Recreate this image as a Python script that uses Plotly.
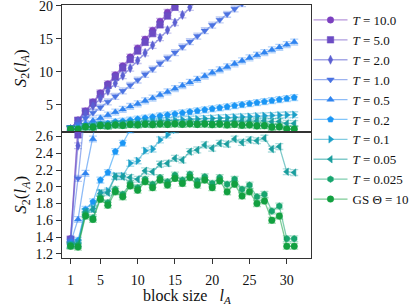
import plotly.graph_objects as go
from plotly.subplots import make_subplots

block_size = list(range(1, 32))

labels = ["<i>T</i> = 10.0", "<i>T</i> = 5.0", "<i>T</i> = 2.0", "<i>T</i> = 1.0", "<i>T</i> = 0.5",
          "<i>T</i> = 0.2", "<i>T</i> = 0.1", "<i>T</i> = 0.05", "<i>T</i> = 0.025", "GS Θ = 10"]

T10 = [1.38, 2.70, 4.07, 5.44, 6.80, 8.16, 9.52, 10.88, 12.22, 13.57, 14.91, 16.26, 17.62, 18.98, 20.30,
       21.60, 22.90, 24.20, 25.50, 26.80, 28.10, 29.40, 30.60, 31.90, 33.10, 34.30, 35.50, 36.70, 37.80, 38.90, 40.00]
T5 = [1.37, 2.62, 3.95, 5.28, 6.60, 7.92, 9.22, 10.55, 11.85, 13.15, 14.45, 15.78, 17.10, 18.45, 19.75,
      21.00, 22.30, 23.50, 24.80, 26.00, 27.20, 28.40, 29.60, 30.70, 31.80, 32.90, 34.00, 35.00, 36.00, 37.00, 37.90]
T2 = [1.36, 2.49, 3.65, 4.80, 5.95, 7.10, 8.25, 9.40, 10.55, 11.70, 12.85, 14.00, 15.15, 16.30, 17.45,
      18.60, 19.75, 20.90, 22.00, 23.10, 24.20, 25.30, 26.40, 27.50, 28.50, 29.50, 30.50, 31.50, 32.40, 33.30, 34.20]
T1 = [1.35, 2.10, 2.95, 3.78, 4.60, 5.45, 6.28, 7.10, 7.95, 8.75, 9.60, 10.40, 11.25, 12.08, 12.90,
      13.75, 14.55, 15.40, 16.22, 17.05, 17.85, 18.70, 19.50, 20.30, 21.10, 21.90, 22.70, 23.45, 24.20, 24.95, 25.70]
T05 = [1.33, 1.61, 2.16, 2.57, 3.00, 3.45, 3.90, 4.30, 4.75, 5.15, 5.60, 6.00, 6.50, 6.95, 7.45,
       7.90, 8.40, 8.85, 9.35, 9.85, 10.30, 10.75, 11.20, 11.65, 12.10, 12.50, 12.90, 13.30, 13.70, 14.10, 14.50]
T02 = [1.31, 1.36, 1.73, 1.82, 2.08, 2.17, 2.42, 2.52, 2.68, 2.84, 3.00, 3.15, 3.31, 3.46, 3.62,
       3.77, 3.93, 4.08, 4.24, 4.39, 4.55, 4.70, 4.86, 5.01, 5.17, 5.32, 5.48, 5.63, 5.79, 5.94, 6.10]
T01 = [1.31, 1.33, 1.70, 1.74, 1.93, 1.95, 2.13, 2.13, 2.28, 2.31, 2.43, 2.45, 2.56, 2.62, 2.68,
       2.73, 2.80, 2.84, 2.90, 2.95, 3.02, 3.06, 3.12, 3.17, 3.22, 3.28, 3.33, 3.37, 3.42, 3.46, 3.50]
T005 = [1.30, 1.32, 1.70, 1.73, 1.92, 1.93, 2.12, 2.12, 2.11, 2.09, 2.19, 2.18, 2.27, 2.28, 2.34,
        2.32, 2.42, 2.44, 2.50, 2.46, 2.52, 2.51, 2.57, 2.53, 2.56, 2.55, 2.58, 2.45, 2.48, 2.18, 2.17]
T0025 = [1.30, 1.30, 1.67, 1.63, 1.87, 1.81, 1.97, 1.91, 2.04, 1.99, 2.09, 2.03, 2.11, 2.06, 2.14,
         2.08, 2.15, 2.07, 2.12, 2.04, 2.11, 2.03, 2.09, 1.97, 2.02, 1.88, 1.91, 1.71, 1.77, 1.38, 1.38]
GS = [1.29, 1.28, 1.65, 1.61, 1.85, 1.78, 1.94, 1.88, 2.01, 1.96, 2.06, 1.99, 2.08, 2.02, 2.10,
      2.04, 2.11, 2.02, 2.08, 1.99, 2.07, 1.94, 2.03, 1.89, 1.94, 1.80, 1.83, 1.60, 1.65, 1.29, 1.29]

series = [T10, T5, T2, T1, T05, T02, T01, T005, T0025, GS]
colors = ["#7b3fbf", "#6c4cc4", "#5b5fd2", "#4a72e2", "#2f84f0",
          "#1a96f5", "#1ba0c8", "#1a9e9e", "#17a56e", "#12a040"]
symbols = ["circle", "square", "diamond-tall", "triangle-down", "triangle-up",
           "pentagon", "triangle-right", "triangle-left", "hexagon", "circle"]


def rgba(h, a):
    h = h.lstrip("#")
    r, g, b = int(h[0:2], 16), int(h[2:4], 16), int(h[4:6], 16)
    return f"rgba({r},{g},{b},{a})"


fig = make_subplots(rows=2, cols=1, shared_xaxes=True, vertical_spacing=0)

for row, err in [(1, 0.45), (2, 0.035)]:
    for i, (ys, c, s, lab) in enumerate(zip(series, colors, symbols, labels)):
        fig.add_trace(go.Scatter(
            x=block_size, y=ys, mode="lines+markers", name=lab,
            showlegend=(row == 1), legendrank=i,
            line=dict(color=rgba(c, 0.55), width=1.3),
            marker=dict(symbol=s, size=6.5, color=c, line=dict(color=rgba(c, 0.5), width=1)),
            error_y=dict(type="constant", value=err, width=4, thickness=1.3, color=rgba(c, 0.35)),
        ), row=row, col=1)

font = "Liberation Serif"
axis_common = dict(showline=True, linecolor="#333", linewidth=1.2, mirror=True, automargin=False,
                   ticklabeloverflow="allow",
                   showgrid=False, zeroline=False, tickfont=dict(family=font, size=14, color="#111"))

fig.update_xaxes(range=[-0.15, 33.25], **axis_common)
fig.update_xaxes(row=1, col=1, showticklabels=False, ticks="")
fig.update_xaxes(row=2, col=1, tickvals=[1, 5, 10, 15, 20, 25, 30], ticks="outside",
                 ticklen=5, tickcolor="#333", ticklabelstandoff=4)
fig.update_yaxes(row=1, col=1, range=[0.96, 20.1], tickvals=[5, 10, 15, 20], ticks="outside",
                 ticklen=5, tickcolor="#333", **axis_common)
fig.update_yaxes(row=2, col=1, range=[1.15, 2.66], tickvals=[1.2, 1.4, 1.6, 1.8, 2.0, 2.2, 2.4, 2.6],
                 tickformat=".1f", ticks="outside", ticklen=5, tickcolor="#333", **axis_common)

ytitle = "<i>S</i><sub>2</sub>(<i>l<sub>A</sub></i>)"
annotations = [
    dict(text=ytitle, x=-0.161, y=0.75, xref="paper", yref="paper", textangle=-90,
         showarrow=False, xanchor="center", yanchor="middle", font=dict(family=font, size=17, color="#111")),
    dict(text=ytitle, x=-0.161, y=0.25, xref="paper", yref="paper", textangle=-90,
         showarrow=False, xanchor="center", yanchor="middle", font=dict(family=font, size=17, color="#111")),
    dict(text="block size   <i>l<sub>A</sub></i>", x=0.5, y=-0.152, xref="paper", yref="paper",
         showarrow=False, xanchor="center", yanchor="middle", font=dict(family=font, size=16, color="#111")),
]

fig.update_layout(
    width=415, height=308,
    margin=dict(l=62, r=104, t=5, b=50, autoexpand=False),
    paper_bgcolor="white", plot_bgcolor="white",
    font=dict(family=font, size=14, color="#111"),
    annotations=annotations,
    legend=dict(x=0.99, xanchor="left", y=1.0, yanchor="top",
                font=dict(family=font, size=13, color="#111"),
                bgcolor="rgba(0,0,0,0)", itemwidth=34, tracegroupgap=0),
)

fig.write_html("out.html", config={"displayModeBar": False},
               post_script="document.body.style.margin='0px';")
